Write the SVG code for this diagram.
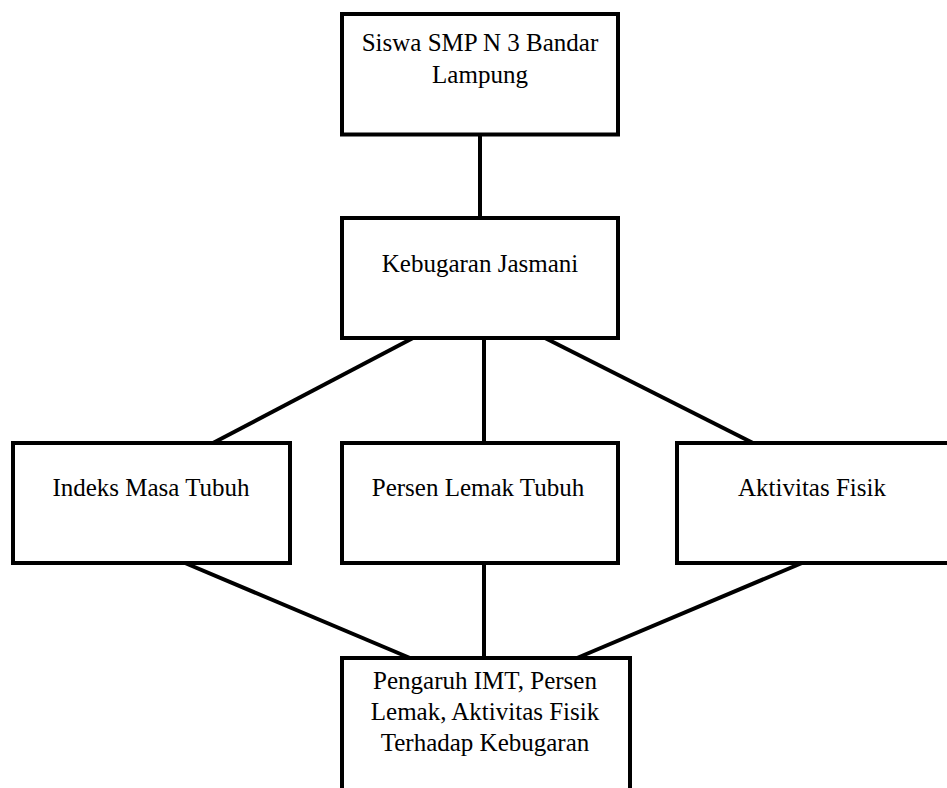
<svg xmlns="http://www.w3.org/2000/svg" width="947" height="788" viewBox="0 0 947 788">
<style>
.box{fill:#fff;stroke:#000;stroke-width:4}
.con{stroke:#000;stroke-width:4;fill:none}
text{font-family:"Liberation Serif","Times New Roman",serif;font-size:25px;fill:#000;text-anchor:middle}
</style>
<rect width="947" height="788" fill="#fff"/>
<g id="connectors">
<line class="con" x1="480" y1="134" x2="480" y2="218"/>
<line class="con" x1="413" y1="338" x2="213" y2="443"/>
<line class="con" x1="484" y1="338" x2="484" y2="443"/>
<line class="con" x1="545" y1="338" x2="753" y2="443"/>
<line class="con" x1="185" y1="563" x2="410" y2="658"/>
<line class="con" x1="484" y1="563" x2="484" y2="658"/>
<line class="con" x1="802" y1="563" x2="577" y2="658"/>
</g>
<g id="siswa">
<rect class="box" x="342" y="14" width="276" height="120.5"/>
<text x="480" y="51">Siswa SMP N 3 Bandar</text>
<text x="480" y="83">Lampung</text>
</g>
<g id="kebugaran">
<rect class="box" x="342" y="218" width="276" height="120"/>
<text x="480" y="272">Kebugaran Jasmani</text>
</g>
<g id="imt">
<rect class="box" x="13" y="443" width="277" height="120"/>
<text x="151" y="496">Indeks Masa Tubuh</text>
</g>
<g id="lemak">
<rect class="box" x="342" y="443" width="276" height="120"/>
<text x="478" y="496">Persen Lemak Tubuh</text>
</g>
<g id="aktivitas">
<rect class="box" x="677" y="443" width="290" height="120"/>
<text x="812" y="496">Aktivitas Fisik</text>
</g>
<g id="pengaruh">
<rect class="box" x="342" y="658" width="288" height="160"/>
<text x="485" y="689">Pengaruh IMT, Persen</text>
<text x="485" y="720">Lemak, Aktivitas Fisik</text>
<text x="485" y="751">Terhadap Kebugaran</text>
</g>
</svg>
